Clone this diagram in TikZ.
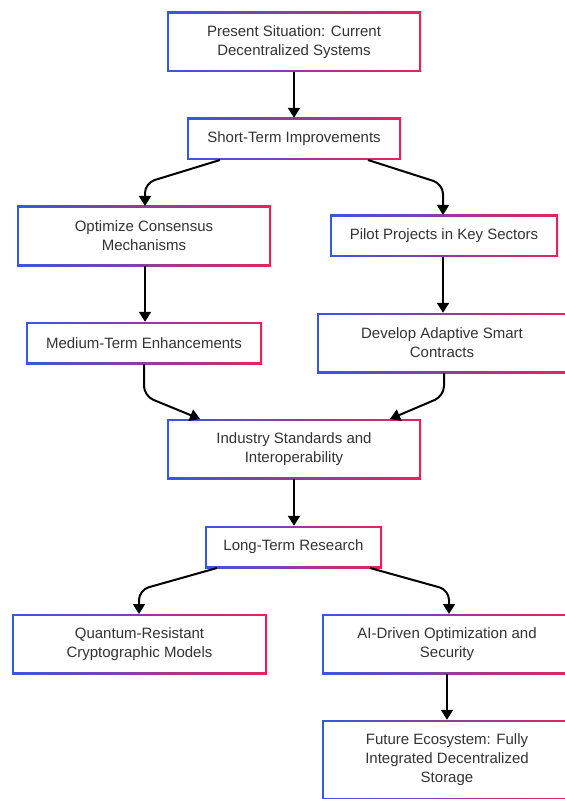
\documentclass[tikz,border=0pt]{standalone}
\usepackage{fontspec}
\setmainfont{Liberation Sans}
\usetikzlibrary{arrows.meta}
\definecolor{gblue}{HTML}{3558E0}
\definecolor{gred}{HTML}{E3245C}
\definecolor{txt}{HTML}{333333}
\tikzset{
  gbox/.style={rectangle, inner sep=0pt, align=center, text=txt,
    font=\fontsize{15}{19}\selectfont,
    path picture={
      \shade[left color=gblue, right color=gred]
        (path picture bounding box.south west) rectangle (path picture bounding box.north east);
      \fill[white]
        ([shift={(2pt,2pt)}]path picture bounding box.south west) rectangle
        ([shift={(-2pt,-2pt)}]path picture bounding box.north east);
    }},
  arr/.style={draw=black, line width=2pt, rounded corners=10pt,
    -{Triangle[length=10pt,width=12pt]}},
}
\begin{document}
\begin{tikzpicture}[x=1pt,y=-1pt]
\useasboundingbox (0,0) rectangle (564,799);
\fill[white] (0,0) rectangle (564,799);

\node[gbox, minimum width=254pt, minimum height=60pt] (p) at (294,42) {Present Situation: Current\\Decentralized Systems};
\node[gbox, minimum width=214pt, minimum height=42pt] (s) at (294,139) {Short-Term Improvements};
\node[gbox, minimum width=254pt, minimum height=60pt] (o) at (144,236) {Optimize Consensus\\Mechanisms};
\node[gbox, minimum width=228pt, minimum height=42pt] (pi) at (444,236) {Pilot Projects in Key Sectors};
\node[gbox, minimum width=236pt, minimum height=42pt] (m) at (144,343) {Medium-Term Enhancements};
\node[gbox, minimum width=250pt, minimum height=60pt] (d) at (442,343) {Develop Adaptive Smart\\Contracts};
\node[gbox, minimum width=254pt, minimum height=60pt] (i) at (294,449) {Industry Standards and\\Interoperability};
\node[gbox, minimum width=177pt, minimum height=42pt] (l) at (293.5,547) {Long-Term Research};
\node[gbox, minimum width=255pt, minimum height=60pt] (q) at (139.5,644) {Quantum-Resistant\\Cryptographic Models};
\node[gbox, minimum width=250pt, minimum height=60pt] (a) at (447,644) {AI-Driven Optimization and\\Security};
\node[gbox, minimum width=250pt, minimum height=80pt] (f) at (447,760) {Future Ecosystem: Fully\\Integrated Decentralized\\Storage};

\coordinate (s1) at (220,160);
\coordinate (s2) at (368,160);
\coordinate (m1) at (144,364);
\coordinate (d1) at (444,373);
\coordinate (i1) at (200,419);
\coordinate (i2) at (390,419);
\coordinate (l1) at (217,568);
\coordinate (l2) at (370,568);

\draw[arr] (p.south) -- (s.north);
\draw[arr] (s1) -- (145,183) -- (145,206);
\draw[arr] (s2) -- (443,184) -- (443,215);
\draw[arr] (o.south -| 145,0) -- (m.north -| 145,0);
\draw[arr] (pi.south -| 443,0) -- (d.north -| 443,0);
\draw[arr] (m1) -- (144,396) -- (i1);
\draw[arr] (d1) -- (444,396) -- (i2);
\draw[arr] (i.south) -- (l.north -| i.south);
\draw[arr] (l1) -- (139,590) -- (139,614);
\draw[arr] (l2) -- (449,590) -- (449,614);
\draw[arr] (a.south) -- (f.north);
\end{tikzpicture}
\end{document}
